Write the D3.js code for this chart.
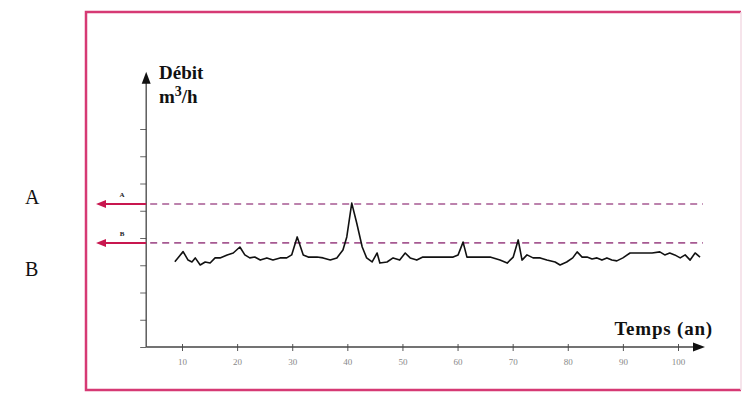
<!DOCTYPE html>
<html>
<head>
<meta charset="utf-8">
<script src="https://cdn.jsdelivr.net/npm/d3@7"></script>
<style>
  body { margin: 0; background: #fff; }
  svg { display: block; }
</style>
</head>
<body>
<svg id="chart" width="749" height="394"></svg>
<script>
// years (an) and flow (Débit, in tick units)
var years = [8.7, 10.2, 11.1, 11.8, 12.4, 13.3, 14.2, 15.1, 16.0, 16.9, 18.2, 19.3, 20.5, 21.4, 22.3, 23.2, 24.2, 25.4, 26.5, 27.8, 29.0, 29.9, 30.9,
  32.0, 32.9, 34.5, 35.6, 36.9, 38.1, 39.2, 39.9, 40.8, 41.7, 42.7, 43.5, 44.5, 45.4, 45.9, 47.2, 48.3, 49.5, 50.5, 51.4, 52.6, 53.7,
  56.3, 59.2, 60.1, 61.0, 61.7, 63.5, 65.9, 67.7, 69.0, 70.1, 71.0, 71.7, 72.6, 73.7, 75.0, 76.2, 77.7, 78.6, 79.8, 80.9, 81.7,
  82.6, 83.5, 84.4, 85.3, 86.2, 87.1, 88.0, 88.9, 90.0, 91.3, 92.6, 93.7, 95.3, 96.7, 97.6, 98.5, 99.4, 100.4, 101.3, 102.2, 103.1, 104.0];
var debit = [3.13, 3.50, 3.19, 3.12, 3.27, 3.01, 3.12, 3.08, 3.27, 3.27, 3.38, 3.45, 3.67, 3.38, 3.27, 3.30, 3.19, 3.27, 3.19, 3.27, 3.27, 3.38, 4.04,
  3.38, 3.30, 3.30, 3.27, 3.19, 3.27, 3.56, 4.04, 5.28, 4.55, 3.67, 3.27, 3.12, 3.45, 3.08, 3.12, 3.27, 3.19, 3.45, 3.27, 3.19, 3.30,
  3.30, 3.30, 3.38, 3.85, 3.30, 3.30, 3.30, 3.19, 3.08, 3.30, 3.93, 3.19, 3.38, 3.27, 3.27, 3.19, 3.12, 3.01, 3.12, 3.27, 3.49,
  3.30, 3.30, 3.23, 3.27, 3.19, 3.27, 3.19, 3.16, 3.27, 3.45, 3.45, 3.45, 3.45, 3.49, 3.38, 3.45, 3.38, 3.27, 3.38, 3.19, 3.45, 3.30, 3.19];
var xTicks = [10, 20, 30, 40, 50, 60, 70, 80, 90, 100];
var yTicks = [0, 1, 2, 3, 4, 5, 6, 7, 8];
var seuils = [{name: 'A', value: 5.25}, {name: 'B', value: 3.82}];

var svg = d3.select('#chart');
var serif = "'Liberation Serif', 'DejaVu Serif', serif";

var xscale = d3.scaleLinear()
  .domain([0, 100])
  .range([126.9, 678]);
var yscale = d3.scaleLinear()
  .domain([0, 8])
  .range([347, 129]);

var x0 = xscale(3.5);   // where the vertical axis sits
var xEnd = xscale(104.9);
var yTop = yscale(10.1);

// pink frame
var pink = '#d63a74';
svg.append('path')
  .attr('d', 'M741,12 L86,12 L86,390 L741,390')
  .attr('fill', 'none')
  .attr('stroke', pink)
  .attr('stroke-width', 2.5);
svg.append('line')
  .attr('x1', 741).attr('x2', 741).attr('y1', 12).attr('y2', 390)
  .attr('stroke', '#f3dbe5').attr('stroke-width', 1.5);

// axes
var xaxis = d3.axisBottom(xscale)
  .tickValues(xTicks)
  .tickSize(4)
  .tickFormat(d3.format('d'));
var gx = svg.append('g')
  .attr('transform', 'translate(0,' + yscale(0) + ')')
  .call(xaxis);
gx.select('.domain').remove();
gx.selectAll('.tick line').attr('y1', -3).attr('stroke', '#555');
gx.selectAll('.tick text')
  .attr('y', 12)
  .attr('fill', '#888')
  .attr('font-family', serif)
  .attr('font-size', 9);

var yaxis = d3.axisLeft(yscale)
  .tickValues(yTicks)
  .tickSize(6)
  .tickFormat('');
var gy = svg.append('g')
  .attr('transform', 'translate(' + x0 + ',0)')
  .call(yaxis);
gy.select('.domain').remove();
gy.selectAll('.tick line').attr('stroke', '#666');

svg.append('line')
  .attr('x1', x0).attr('x2', xEnd - 8)
  .attr('y1', yscale(0)).attr('y2', yscale(0))
  .attr('stroke', '#444').attr('stroke-width', 1.3);
svg.append('line')
  .attr('x1', x0).attr('x2', x0)
  .attr('y1', yscale(0)).attr('y2', yTop + 8)
  .attr('stroke', '#444').attr('stroke-width', 1.3);
svg.append('path')
  .attr('d', 'M' + xEnd + ',' + yscale(0) + ' l-12,-4.5 l0,9 z')
  .attr('fill', '#111');
svg.append('path')
  .attr('d', 'M' + x0 + ',' + yTop + ' l-4.5,12 l9,0 z')
  .attr('fill', '#111');

// threshold lines with their arrows
seuils.forEach(function(s) {
  var y = yscale(s.value);
  svg.append('line')
    .attr('x1', x0 + 4).attr('x2', xEnd - 2)
    .attr('y1', y).attr('y2', y)
    .attr('stroke', '#a65a92')
    .attr('stroke-width', 1.6)
    .attr('stroke-dasharray', '7,5');
  svg.append('line')
    .attr('x1', 104).attr('x2', x0)
    .attr('y1', y).attr('y2', y)
    .attr('stroke', '#c8174f')
    .attr('stroke-width', 2);
  svg.append('path')
    .attr('d', 'M96,' + y + ' l10,-4 l0,8 z')
    .attr('fill', '#c8174f');
  svg.append('text')
    .attr('x', 122).attr('y', y - 7)
    .attr('text-anchor', 'middle')
    .attr('font-family', serif)
    .attr('font-weight', 'bold')
    .attr('font-size', 7)
    .attr('fill', '#222')
    .text(s.name);
});

// flow curve
var coords = years.map((d, i) => [d, debit[i]]);
var line = d3.line()
  .x(d => xscale(d[0]))
  .y(d => yscale(d[1]));
svg.append('path')
  .datum(coords)
  .attr('d', line)
  .attr('fill', 'none')
  .attr('stroke', '#111')
  .attr('stroke-width', 1.6)
  .attr('stroke-linejoin', 'round');

// titles
svg.append('text')
  .attr('x', 159).attr('y', 79)
  .attr('font-family', serif).attr('font-weight', 'bold').attr('font-size', 19)
  .attr('fill', '#111')
  .text('Débit');
var unit = svg.append('text')
  .attr('x', 159).attr('y', 103)
  .attr('font-family', serif).attr('font-weight', 'bold').attr('font-size', 19)
  .attr('fill', '#111');
unit.append('tspan').text('m');
unit.append('tspan').attr('dy', -7).attr('font-size', 14).text('3');
unit.append('tspan').attr('dy', 7).text('/h');

svg.append('text')
  .attr('x', 713).attr('y', 335)
  .attr('text-anchor', 'end')
  .attr('font-family', serif).attr('font-weight', 'bold').attr('font-size', 19)
  .attr('letter-spacing', 0.8)
  .attr('fill', '#111')
  .text('Temps (an)');

// outside letters
svg.append('text')
  .attr('x', 25).attr('y', 204)
  .attr('font-family', serif).attr('font-size', 20)
  .attr('fill', '#111')
  .text('A');
svg.append('text')
  .attr('x', 25).attr('y', 276)
  .attr('font-family', serif).attr('font-size', 20)
  .attr('fill', '#111')
  .text('B');
</script>
</body>
</html>
